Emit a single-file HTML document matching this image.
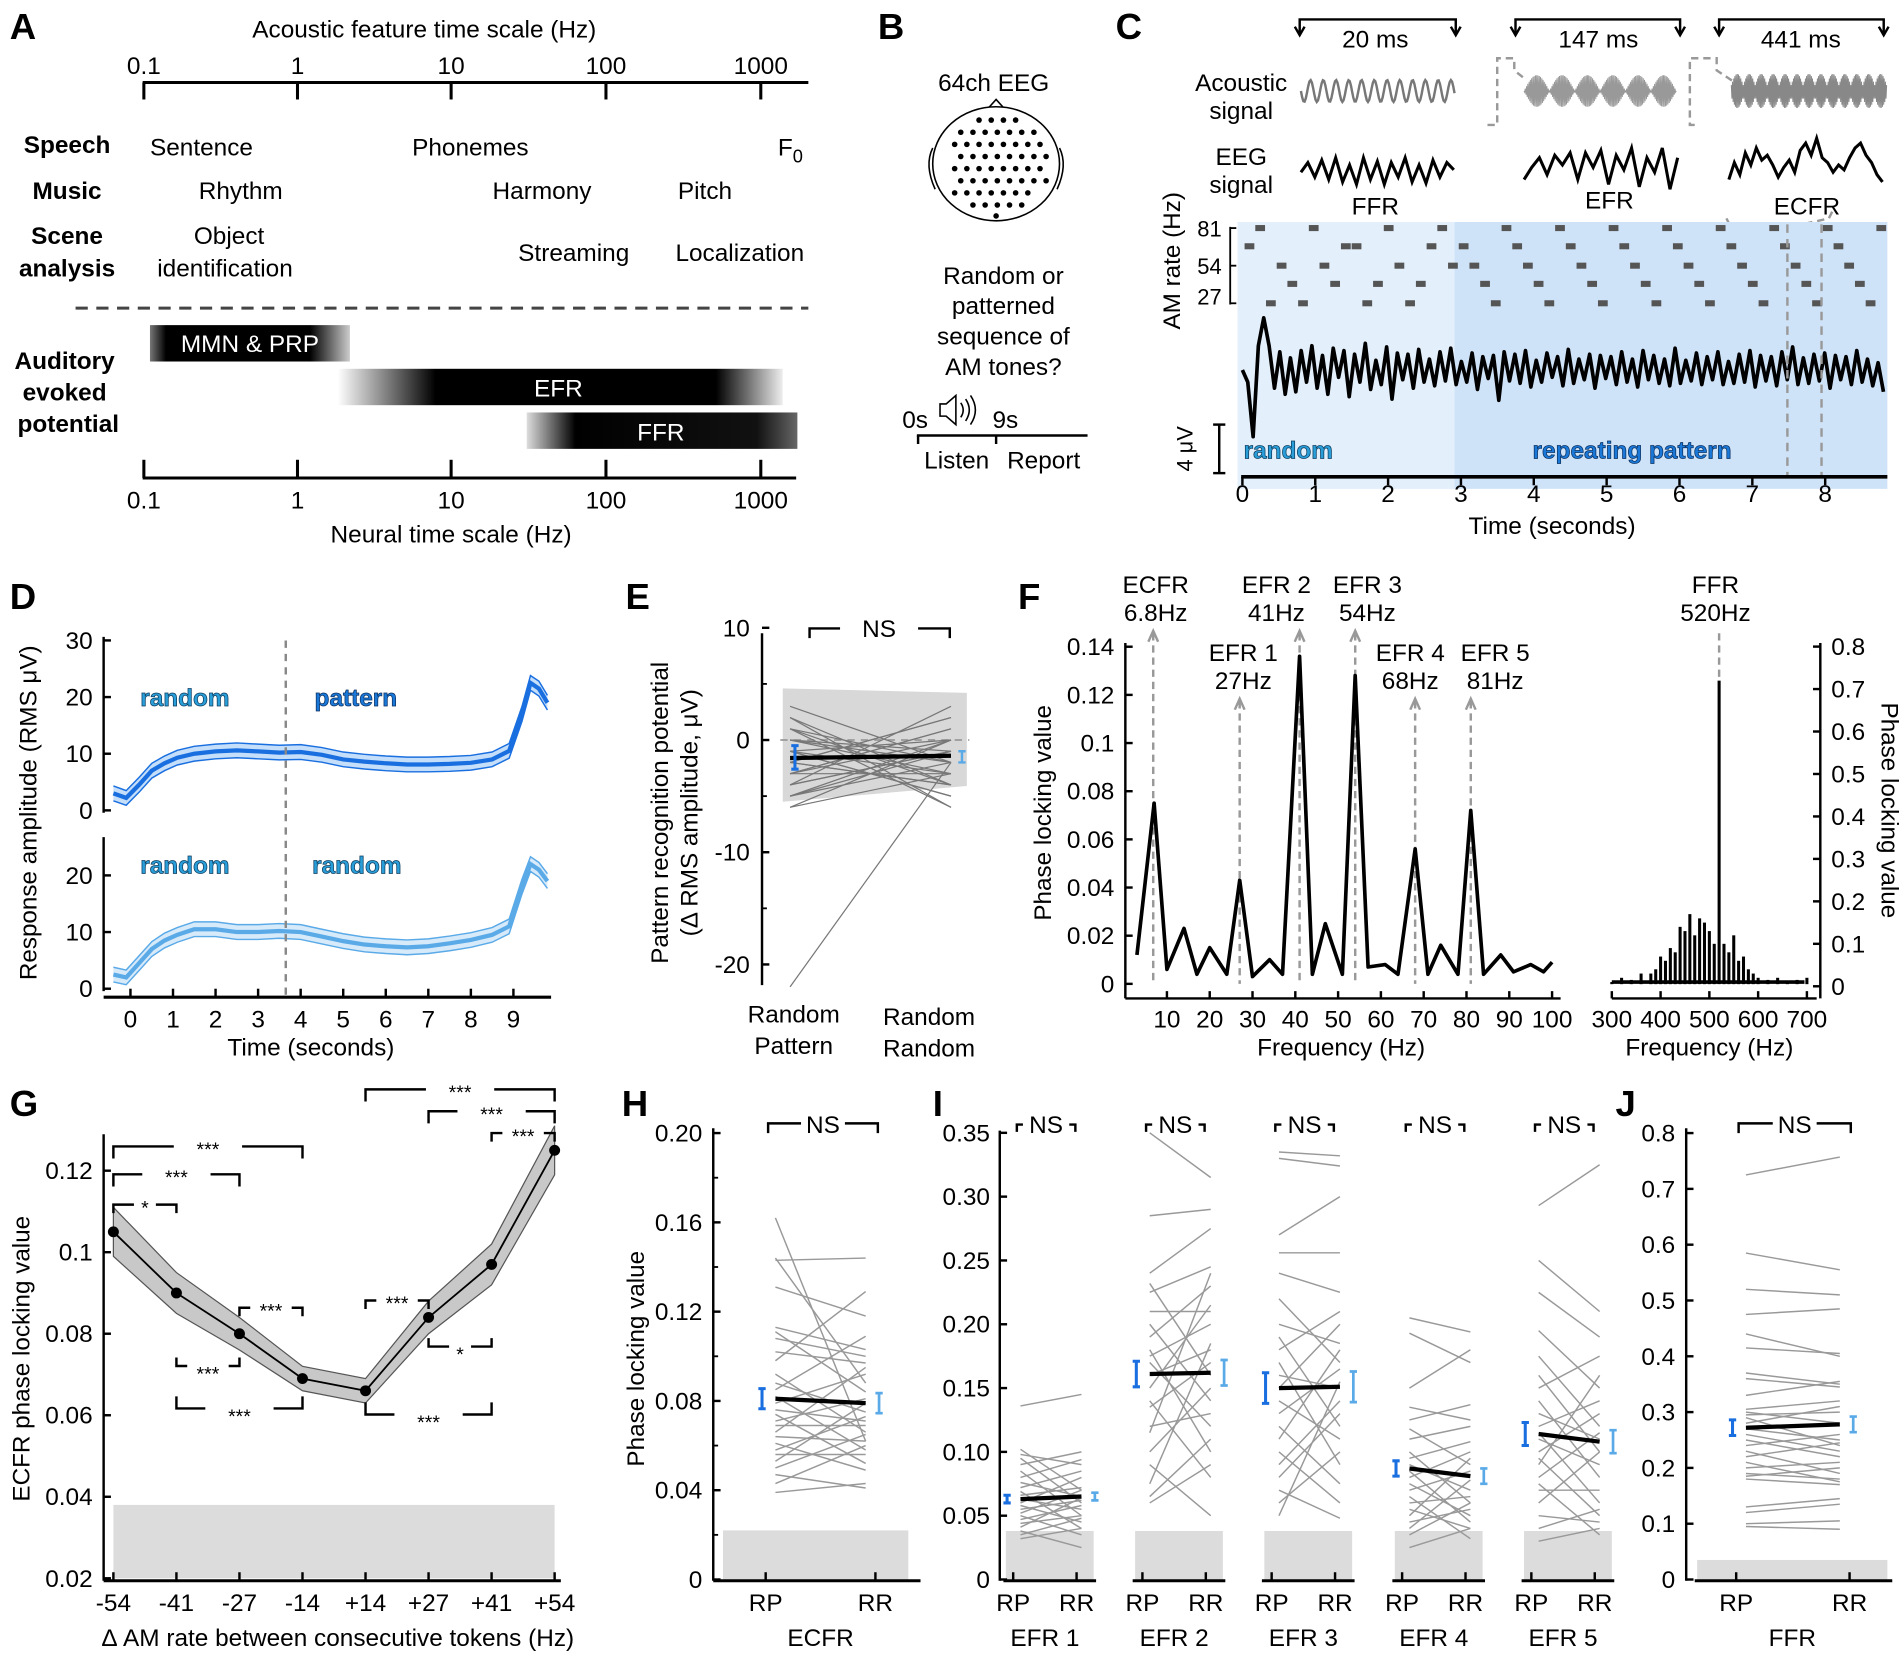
<!DOCTYPE html>
<html><head><meta charset="utf-8"><style>
html,body{margin:0;padding:0;background:#fff;}
svg{display:block;font-family:"Liberation Sans",Arial,sans-serif;}
</style></head><body>
<svg id="fig" xmlns="http://www.w3.org/2000/svg" width="1902" height="1662" viewBox="0 0 1560 1370" preserveAspectRatio="none">
<defs>
<linearGradient id="gMMN" x1="0" x2="1"><stop offset="0" stop-color="#777"/><stop offset="0.08" stop-color="#000"/><stop offset="0.8" stop-color="#000"/><stop offset="1" stop-color="#ccc"/></linearGradient>
<linearGradient id="gEFR" x1="0" x2="1"><stop offset="0" stop-color="#fff"/><stop offset="0.22" stop-color="#000"/><stop offset="0.85" stop-color="#000"/><stop offset="1" stop-color="#eee"/></linearGradient>
<linearGradient id="gFFR" x1="0" x2="1"><stop offset="0" stop-color="#ddd"/><stop offset="0.18" stop-color="#000"/><stop offset="0.85" stop-color="#111"/><stop offset="1" stop-color="#666"/></linearGradient>
</defs>
<!-- Panel A -->
<g font-size="20">
<text x="8" y="32" font-size="30" font-weight="bold">A</text>
<text x="348" y="31" text-anchor="middle">Acoustic feature time scale (Hz)</text>
<g stroke="#000" stroke-width="2.5"><line x1="117" y1="68" x2="663" y2="68"/><line x1="118" y1="68" x2="118" y2="82"/><line x1="244" y1="68" x2="244" y2="82"/><line x1="370" y1="68" x2="370" y2="82"/><line x1="497" y1="68" x2="497" y2="82"/><line x1="624" y1="68" x2="624" y2="82"/></g>
<g text-anchor="middle"><text x="118" y="61">0.1</text><text x="244" y="61">1</text><text x="370" y="61">10</text><text x="497" y="61">100</text><text x="624" y="61">1000</text></g>
<g font-weight="bold" text-anchor="middle"><text x="55" y="126">Speech</text><text x="55" y="164">Music</text><text x="55" y="201">Scene</text><text x="55" y="228">analysis</text></g>
<g><text x="123" y="128">Sentence</text><text x="338" y="128">Phonemes</text><text x="638" y="128">F<tspan font-size="15" dy="6">0</tspan></text><text x="163" y="164">Rhythm</text><text x="404" y="164">Harmony</text><text x="556" y="164">Pitch</text><text x="159" y="201">Object</text><text x="129" y="228">identification</text><text x="425" y="215">Streaming</text><text x="554" y="215">Localization</text></g>
<line x1="62" y1="254" x2="663" y2="254" stroke="#444" stroke-width="2.5" stroke-dasharray="10 7"/>
<rect x="123" y="268" width="164" height="30" fill="url(#gMMN)"/>
<text x="205" y="290" fill="#fff" text-anchor="middle">MMN &amp; PRP</text>
<rect x="277" y="304" width="365" height="30" fill="url(#gEFR)"/>
<text x="458" y="327" fill="#fff" text-anchor="middle">EFR</text>
<rect x="432" y="340" width="222" height="30" fill="url(#gFFR)"/>
<text x="542" y="363" fill="#fff" text-anchor="middle">FFR</text>
<g font-weight="bold" text-anchor="middle"><text x="53" y="304">Auditory</text><text x="53" y="330">evoked</text><text x="56" y="356">potential</text></g>
<g stroke="#000" stroke-width="2.5"><line x1="117" y1="394" x2="653" y2="394"/><line x1="118" y1="394" x2="118" y2="379"/><line x1="244" y1="394" x2="244" y2="379"/><line x1="370" y1="394" x2="370" y2="379"/><line x1="497" y1="394" x2="497" y2="379"/><line x1="624" y1="394" x2="624" y2="379"/></g>
<g text-anchor="middle"><text x="118" y="419">0.1</text><text x="244" y="419">1</text><text x="370" y="419">10</text><text x="497" y="419">100</text><text x="624" y="419">1000</text></g>
<text x="370" y="447" text-anchor="middle">Neural time scale (Hz)</text>
</g>
<!-- Panel B -->
<g font-size="20">
<text x="720" y="32" font-size="30" font-weight="bold">B</text>
<text x="815" y="75" text-anchor="middle">64ch EEG</text>
<g fill="none" stroke="#000" stroke-width="1.3"><path d="M808,92 L817,82 L826,92"/><path d="M765,122 q-7,14 2,34"/><path d="M869,122 q7,14 -2,34"/><ellipse cx="817" cy="135" rx="52" ry="47" fill="#fff"/></g>
<g id="headDots" fill="#000"></g>
<g text-anchor="middle"><text x="823" y="234">Random or</text><text x="823" y="259">patterned</text><text x="823" y="284">sequence of</text><text x="823" y="309">AM tones?</text></g>
<text x="740" y="353">0s</text>
<g fill="none" stroke="#000" stroke-width="1.3"><path d="M771,333 h5 l8,-7 v24 l-8,-7 h-5z"/><path d="M788,332 q4,6 0,12"/><path d="M792,329 q6,9 0,18"/><path d="M796,326 q8,12 0,24"/></g>
<text x="814" y="353">9s</text>
<g stroke="#000" stroke-width="2"><line x1="752" y1="359" x2="892" y2="359"/><line x1="753" y1="359" x2="753" y2="366"/><line x1="817" y1="359" x2="817" y2="366"/></g>
<text x="758" y="386">Listen</text><text x="826" y="386">Report</text>
</g>
<!-- Panel C -->
<g id="panelC" font-size="20">
<text x="915" y="32" font-size="30" font-weight="bold">C</text>
<g fill="none" stroke="#000" stroke-width="2">
<path d="M1066,28 v-12 h128 v12"/><path d="M1243,28 v-12 h135 v12"/><path d="M1410,28 v-12 h135 v12"/>
<path d="M1062,22 l4,7 l4,-7 M1190,22 l4,7 l4,-7 M1239,22 l4,7 l4,-7 M1374,22 l4,7 l4,-7 M1406,22 l4,7 l4,-7 M1541,22 l4,7 l4,-7"/></g>
<g text-anchor="middle"><text x="1128" y="39">20 ms</text><text x="1311" y="39">147 ms</text><text x="1477" y="39">441 ms</text></g>
<g text-anchor="middle"><text x="1018" y="75">Acoustic</text><text x="1018" y="98">signal</text><text x="1018" y="136">EEG</text><text x="1018" y="159">signal</text></g>
<g id="cWaves"></g>
<g fill="none" stroke="#999" stroke-width="2" stroke-dasharray="6 4">
<path d="M1220,103 h8 v-55 h14 v10 l10,8"/><path d="M1390,103 h-4 v-55 h22 v10 l15,10"/><path d="M1416,180 l4,8 h45 l35,-8 l4,-8"/></g>
<g text-anchor="middle"><text x="1128" y="177">FFR</text><text x="1320" y="172">EFR</text><text x="1482" y="177">ECFR</text></g>
<rect x="1015" y="183" width="178" height="220" fill="#e3effb"/>
<rect x="1193" y="183" width="355" height="220" fill="#cfe3f8"/>
<g id="cDashes"></g>
<g stroke="#000" stroke-width="1.5"><line x1="1009" y1="187" x2="1009" y2="251"/><line x1="1009" y1="188" x2="1014" y2="188"/><line x1="1009" y1="219" x2="1014" y2="219"/><line x1="1009" y1="250" x2="1014" y2="250"/></g>
<g font-size="18" text-anchor="end"><text x="1002" y="195">81</text><text x="1002" y="226">54</text><text x="1002" y="251">27</text></g>
<text transform="translate(968,215) rotate(-90)" text-anchor="middle">AM rate (Hz)</text>
<path id="cTrace" fill="none" stroke="#000" stroke-width="3" stroke-linejoin="round"/>
<g stroke="#999" stroke-width="2" stroke-dasharray="7 5"><line x1="1466" y1="185" x2="1466" y2="393"/><line x1="1494" y1="185" x2="1494" y2="393"/></g>
<g stroke="#000" stroke-width="2"><line x1="1000" y1="350" x2="1000" y2="390"/><line x1="995" y1="350" x2="1005" y2="350"/><line x1="995" y1="390" x2="1005" y2="390"/></g>
<text transform="translate(978,370) rotate(-90)" text-anchor="middle" font-size="18">4 μV</text>
<text x="1020" y="378" font-weight="bold" fill="#2a9ed8" stroke="#0b3a5c" stroke-width="0.6">random</text>
<text x="1257" y="378" font-weight="bold" fill="#1a78d8" stroke="#0b3060" stroke-width="0.6">repeating pattern</text>
<line x1="1018" y1="393" x2="1548" y2="393" stroke="#000" stroke-width="3"/>
<g id="cTicks" text-anchor="middle"></g>
<text x="1273" y="440" text-anchor="middle">Time (seconds)</text>
</g>
<!-- Panel D -->
<g id="panelD" font-size="20">
<text x="8" y="502" font-size="30" font-weight="bold">D</text>
<text transform="translate(30,670) rotate(-90)" text-anchor="middle">Response amplitude (RMS μV)</text>
<text x="255" y="870" text-anchor="middle">Time (seconds)</text>
<text x="115" y="582" font-weight="bold" fill="#2a9ed8" stroke="#0b3a5c" stroke-width="0.6">random</text>
<text x="258" y="582" font-weight="bold" fill="#1a78d8" stroke="#0b3060" stroke-width="0.6">pattern</text>
<text x="115" y="720" font-weight="bold" fill="#2a9ed8" stroke="#0b3a5c" stroke-width="0.6">random</text>
<text x="256" y="720" font-weight="bold" fill="#2a9ed8" stroke="#0b3a5c" stroke-width="0.6">random</text>
</g>
<!-- Panel E -->
<g id="panelE" font-size="20">
<text x="513" y="502" font-size="30" font-weight="bold">E</text>
<text transform="translate(548,670) rotate(-90)" text-anchor="middle">Pattern recognition potential</text>
<text transform="translate(572,670) rotate(-90)" text-anchor="middle">(Δ RMS amplitude, μV)</text>
<g text-anchor="middle"><text x="651" y="843">Random</text><text x="651" y="869">Pattern</text><text x="762" y="845">Random</text><text x="762" y="871">Random</text></g>
</g>
<!-- Panel F -->
<g id="panelF" font-size="20">
<text x="835" y="502" font-size="30" font-weight="bold">F</text>
<text transform="translate(862,670) rotate(-90)" text-anchor="middle">Phase locking value</text>
<text transform="translate(1543,668) rotate(90)" text-anchor="middle">Phase locking value</text>
<text x="1100" y="870" text-anchor="middle">Frequency (Hz)</text>
<text x="1402" y="870" text-anchor="middle">Frequency (Hz)</text>
</g>
<!-- Panel G -->
<g id="panelG" font-size="20">
<text x="8" y="920" font-size="30" font-weight="bold">G</text>
<text transform="translate(24,1120) rotate(-90)" text-anchor="middle">ECFR phase locking value</text>
<text x="277" y="1357" text-anchor="middle">Δ AM rate between consecutive tokens (Hz)</text>
</g>
<g id="panelH" font-size="20">
<text x="510" y="920" font-size="30" font-weight="bold">H</text>
<text transform="translate(528,1120) rotate(-90)" text-anchor="middle">Phase locking value</text>
</g>
<g id="panelI" font-size="20">
<text x="765" y="920" font-size="30" font-weight="bold">I</text>
</g>
<g id="panelJ" font-size="20">
<text x="1325" y="920" font-size="30" font-weight="bold">J</text>
</g>
<script>
// ---------- DATA ----------
const cTokenLevels=[68,81,27,54,41,27,81,54,41,68,68,27,41,81,54,27,41,68,81,54,68,54,41,27,81,68,54,41,27,81,68,54,41,27,81,68,54,41,27,81,68,54,41,27,81,68,54,41,27,81,68,54,41,27,81,68,54,41,27,81];
const cTrace=[0,-1,-5.5,2,4.3,2,-1.5,1.5,-2,1,-1.8,1.6,-1,2,-1.5,1.2,-2,1.8,-0.6,1.6,-2.2,1.3,-1,2.2,-1.6,0.8,-1.2,1.9,-2.4,1.4,-0.8,1.3,-1.5,1.7,-1,0.9,-1.3,1.5,-0.9,1.8,-1.2,0.7,-1,1.4,-1.6,1.1,-0.7,1.2,-2.5,1.5,-0.9,1.3,-1.1,1.6,-1.4,0.8,-1,1.4,-0.6,1.1,-1.3,1.7,-1.1,0.9,-0.8,1.3,-1.5,1.2,-0.7,1.1,-1.2,1.5,-1,0.9,-1.4,1.6,-0.8,1.2,-1.1,0.9,-1.3,1.8,-1.1,0.8,-0.9,1.4,-1.2,1.1,-0.8,1.5,-1.2,0.7,-1.1,1.3,-1,1.6,-1.4,1.2,-0.9,1.1,-1.3,1.5,-0.8,1.9,-1.2,1,-1.1,1.3,-0.9,1.4,-1.5,1.2,-0.8,1.1,-1.2,1.6,-1,0.9,-1.3,0.6,-1.8];
const dTimes=[-0.4,-0.1,0.2,0.5,0.8,1.1,1.5,2,2.5,3,3.5,4,4.5,5,5.5,6,6.5,7,7.5,8,8.5,8.9,9.2,9.4,9.6,9.8];
const dPattern=[3,2.2,4.5,7,8.3,9.3,10,10.4,10.6,10.4,10.2,10.3,9.8,9,8.6,8.3,8.1,8.1,8.2,8.4,9,10.5,17,22.5,21.5,19];
const dRandom=[2.5,2,4.5,7,8.5,9.5,10.5,10.5,10,10,10.2,10,9.2,8.4,7.8,7.5,7.3,7.5,8,8.6,9.5,11,18,22,21,19];
const eRP=[0,-3,-5,2,-1,-4,1,-2,-6,3,-1,-3,0,-2,-4,1,-5,-1,2,-3,-2,0,-6,-1,-4,-22,-3,1,-2,-5];
const eRR=[-3,1,-2,-4,0,-1,-6,2,-3,-2,-5,0,-1,-4,3,-2,-1,-3,-6,1,-4,-2,0,-5,-1,-2,-3,-4,2,0];
const fFreq=[3,7,10,14,17,20,24,27,30,34,37,41,44,47,51,54,57,61,64,68,71,74,78,81,84,88,91,95,98,100];
const fPLV=[0.012,0.075,0.006,0.023,0.004,0.015,0.004,0.043,0.003,0.01,0.004,0.136,0.004,0.025,0.004,0.128,0.007,0.008,0.004,0.056,0.004,0.016,0.004,0.072,0.004,0.012,0.005,0.008,0.005,0.009];
const fHighFreq=[300,320,340,360,380,390,400,410,420,430,440,450,460,470,480,490,500,510,520,530,540,550,560,570,580,590,600,620,640,660,680,700];
const fHighPLV=[0.01,0.02,0.015,0.03,0.03,0.04,0.07,0.06,0.09,0.08,0.14,0.13,0.17,0.12,0.16,0.15,0.13,0.1,0.72,0.1,0.08,0.12,0.06,0.07,0.04,0.03,0.02,0.015,0.02,0.01,0.015,0.02];
const gCats=['-54','-41','-27','-14','+14','+27','+41','+54'];
const gMean=[0.105,0.090,0.080,0.069,0.066,0.084,0.097,0.125];
const gSem=[0.006,0.005,0.004,0.003,0.003,0.004,0.005,0.006];
const hRP=[0.162,0.143,0.131,0.113,0.111,0.102,0.098,0.092,0.088,0.085,0.082,0.079,0.076,0.074,0.071,0.069,0.066,0.064,0.061,0.058,0.056,0.053,0.05,0.047,0.043,0.039,0.144,0.108];
const hRR=[0.062,0.144,0.118,0.103,0.084,0.097,0.129,0.066,0.075,0.109,0.058,0.092,0.071,0.052,0.081,0.069,0.095,0.062,0.049,0.073,0.056,0.079,0.065,0.041,0.06,0.043,0.088,0.1];
const iRP=[[0.136,0.102,0.098,0.095,0.09,0.085,0.08,0.076,0.072,0.069,0.066,0.063,0.06,0.058,0.055,0.052,0.05,0.047,0.044,0.041,0.038,0.035,0.032],
[0.35,0.285,0.24,0.232,0.225,0.21,0.2,0.19,0.18,0.175,0.17,0.16,0.15,0.14,0.135,0.12,0.115,0.1,0.09,0.075,0.065,0.06],
[0.335,0.33,0.27,0.256,0.24,0.22,0.2,0.19,0.18,0.17,0.16,0.15,0.14,0.13,0.12,0.11,0.1,0.09,0.08,0.07,0.06,0.05],
[0.205,0.193,0.15,0.135,0.125,0.118,0.11,0.1,0.095,0.09,0.085,0.08,0.075,0.07,0.065,0.06,0.055,0.05,0.045,0.04,0.035,0.025],
[0.293,0.25,0.225,0.195,0.175,0.16,0.15,0.14,0.13,0.12,0.115,0.11,0.1,0.095,0.09,0.08,0.075,0.07,0.06,0.05,0.04,0.03]];
const iRR=[[0.145,0.07,0.09,0.06,0.1,0.05,0.094,0.065,0.085,0.04,0.072,0.055,0.08,0.045,0.062,0.07,0.035,0.058,0.05,0.064,0.025,0.048,0.04],
[0.315,0.29,0.275,0.16,0.245,0.21,0.14,0.23,0.1,0.2,0.12,0.18,0.215,0.08,0.17,0.13,0.24,0.15,0.05,0.185,0.11,0.09],
[0.332,0.324,0.3,0.256,0.225,0.17,0.185,0.12,0.21,0.09,0.15,0.2,0.11,0.165,0.075,0.18,0.06,0.14,0.13,0.048,0.1,0.155],
[0.194,0.17,0.18,0.125,0.137,0.09,0.12,0.06,0.108,0.07,0.045,0.1,0.05,0.085,0.032,0.065,0.04,0.095,0.055,0.078,0.06,0.04],
[0.325,0.21,0.19,0.15,0.12,0.1,0.175,0.08,0.11,0.14,0.06,0.09,0.13,0.05,0.16,0.115,0.035,0.07,0.1,0.045,0.055,0.04]];
const iMeanRP=[0.063,0.161,0.15,0.087,0.114];
const iMeanRR=[0.065,0.162,0.151,0.081,0.108];
const iErr=[0.003,0.01,0.012,0.006,0.009];
const iNames=['EFR 1','EFR 2','EFR 3','EFR 4','EFR 5'];
const jRP=[0.725,0.585,0.52,0.475,0.44,0.415,0.37,0.36,0.33,0.305,0.3,0.295,0.29,0.28,0.27,0.26,0.25,0.24,0.23,0.22,0.21,0.2,0.19,0.185,0.18,0.13,0.12,0.1,0.095];
const jRR=[0.757,0.555,0.51,0.485,0.4,0.405,0.35,0.345,0.355,0.32,0.28,0.3,0.24,0.31,0.25,0.23,0.22,0.26,0.19,0.245,0.175,0.21,0.18,0.2,0.17,0.145,0.135,0.105,0.09];
// ---------- HELPERS ----------
const NS='http://www.w3.org/2000/svg';
function mk(parent,tag,attrs,name){const e=document.createElementNS(NS,tag);for(const k in attrs)e.setAttribute(k,attrs[k]);


parent.appendChild(e);return e;}
function txt(parent,x,y,s,name,extra){const e=mk(parent,'text',Object.assign({x:x,y:y},extra||{}),name);e.textContent=s;return e;}
function line(p,x1,y1,x2,y2,st,w,name){return mk(p,'line',{x1:x1,y1:y1,x2:x2,y2:y2,stroke:st,'stroke-width':w},name);}
const svg=document.getElementById('fig');
// head dots
(function(){const g=document.getElementById('headDots');for(let r=0;r<8;r++){for(let c=0;c<8;c++){const x=783+c*10+(r%2?5:0),y=99+r*10;const dx=(x-817)/44,dy=(y-136)/40;if(dx*dx+dy*dy<1)mk(g,'circle',{cx:x,cy:y,r:2.3},'electrode');}}mk(g,'circle',{cx:817,cy:178,r:2.3},'electrode');})();
// C schematic waves
(function(){const g=document.getElementById('cWaves');let d='';for(let i=0;i<=126;i++){const x=1067+i;d+=(i?'L':'M')+x+','+(75+9*Math.sin(i*0.6));}mk(g,'path',{d:d,fill:'none',stroke:'#777','stroke-width':2},'ffr-acoustic-wave');
d='';for(let i=0;i<=240;i++){const x=1250+i*0.52;const env=Math.abs(Math.sin(i*Math.PI/40));d+=(i?'L':'M')+x.toFixed(1)+','+(75+13*env*(i%2?1:-1));}mk(g,'path',{d:d,fill:'none',stroke:'#999','stroke-width':0.8},'efr-acoustic-wave');
d='';for(let i=0;i<=260;i++){const x=1420+i*0.49;const env=0.35+0.65*Math.abs(Math.sin(i*Math.PI/20));d+=(i?'L':'M')+x.toFixed(1)+','+(75+14*env*(i%2?1:-1));}mk(g,'path',{d:d,fill:'none',stroke:'#888','stroke-width':0.8},'ecfr-acoustic-wave');
d='';const eA=[0,8,-4,10,-6,12,-8,6,-10,12,-6,9,-10,8,-4,12,-8,6,-9,10,-4,8,2];eA.forEach((v,i)=>{d+=(i?'L':'M')+(1067+i*5.7).toFixed(1)+','+(142-v);});mk(g,'path',{d:d,fill:'none',stroke:'#000','stroke-width':2.5},'ffr-eeg-wave');
d='';const eB=[8,-2,-10,4,-12,-4,-14,8,-14,-2,-16,12,-12,0,-18,14,-10,2,-18,16,-10];eB.forEach((v,i)=>{d+=(i?'L':'M')+(1250+i*6.3).toFixed(1)+','+(140+v);});mk(g,'path',{d:d,fill:'none',stroke:'#000','stroke-width':2.5},'efr-eeg-wave');
d='';const eC=[10,-4,6,-12,-2,-16,-6,-10,-2,8,0,-6,4,-14,-20,-10,-24,-8,-4,4,-2,2,-8,-16,-20,-10,-4,6,12];eC.forEach((v,i)=>{d+=(i?'L':'M')+(1418+i*4.5).toFixed(1)+','+(138+v);});mk(g,'path',{d:d,fill:'none',stroke:'#000','stroke-width':2.5},'ecfr-eeg-wave');})();
// C axis functions
const cx=t=>1019+t*59.75;
const levelY={81:188,68:203,54:219,41:234,27:250};
(function(){const g=document.getElementById('cDashes');cTokenLevels.forEach((lv,i)=>{const t=0.03+i*0.147;if(cx(t)+8<1548)mk(g,'rect',{x:cx(t),y:levelY[lv]-2.5,width:8,height:5,fill:'#555'},'am-token');});
const tg=document.getElementById('cTicks');for(let t=0;t<=8;t++){line(tg,cx(t),393,cx(t),400,'#000',2,'c-tick');txt(tg,cx(t),414,String(t),'c-tick-label');}
let d='';const n=cTrace.length;cTrace.forEach((v,i)=>{const x=cx(i*8.8/(n-1));d+=(i?'L':'M')+x.toFixed(1)+','+(305-v*10).toFixed(1);});document.getElementById('cTrace').setAttribute('d',d);})();
// Panel D
(function(){const g=document.getElementById('panelD');const dx=t=>107+t*34.9;
function plot(y0,ppu,vals,col,lcol,name,ticks,top){line(g,85,top,85,y0+2,'#000',2,name+'-y-axis');ticks.forEach(v=>{line(g,85,y0-v*ppu,91,y0-v*ppu,'#000',2,name+'-y-tick');txt(g,76,y0-v*ppu+7,String(v),name+'-y-tick-label',{'text-anchor':'end'});});
let up='',mid='';dTimes.forEach((t,i)=>{up+=(i?'L':'M')+dx(t).toFixed(1)+','+(y0-(vals[i]+1.3)*ppu).toFixed(1);mid+=(i?'L':'M')+dx(t).toFixed(1)+','+(y0-vals[i]*ppu).toFixed(1);});
let loP='';dTimes.slice().reverse().forEach((t,j)=>{const i=dTimes.length-1-j;loP+='L'+dx(t).toFixed(1)+','+(y0-(vals[i]-1.3)*ppu).toFixed(1);});
mk(g,'path',{d:up+loP+'Z',fill:lcol,opacity:0.35},name+'-sem-band');
let lp='';dTimes.forEach((t,i)=>{lp+=(i?'L':'M')+dx(t).toFixed(1)+','+(y0-(vals[i]-1.3)*ppu).toFixed(1);});
mk(g,'path',{d:up,fill:'none',stroke:col,'stroke-width':1.2},name+'-upper');mk(g,'path',{d:lp,fill:'none',stroke:col,'stroke-width':1.2},name+'-lower');
mk(g,'path',{d:mid,fill:'none',stroke:col,'stroke-width':3.5},name+'-mean');}
plot(668,4.67,dPattern,'#1a6fe0','#5aa0f0','d-pattern',[0,10,20,30],525);
plot(815,4.67,dRandom,'#5aaae8','#8cc4f0','d-random',[0,10,20],690);
line(g,85,822,452,822,'#000',2.5,'d-x-axis');for(let t=0;t<=9;t++){line(g,dx(t),822,dx(t),815,'#000',2,'d-x-tick');txt(g,dx(t),847,String(t),'d-x-tick-label',{'text-anchor':'middle'});}
line(g,dx(3.65),528,dx(3.65),820,'#888',2,'d-split-line').setAttribute('stroke-dasharray','6 5');})();
// Panel E
(function(){const g=document.getElementById('panelE');const ey=v=>610-v*9.25;const xa=648,xb=780;
mk(g,'path',{d:`M642,${ey(4.6)} L793,${ey(4.2)} L793,${ey(-4.1)} L642,${ey(-5.5)}Z`,fill:'#d8d8d8'},'e-ci-band');
line(g,640,ey(0),795,ey(0),'#999',1.5,'e-zero-line').setAttribute('stroke-dasharray','6 5');
eRP.forEach((v,i)=>line(g,xa,ey(v),xb,ey(eRR[i]),'#777',1,'e-subject-line'));
line(g,xa,ey(-1.6),xb,ey(-1.4),'#000',3.5,'e-mean-line');
mk(g,'path',{d:`M649,${ey(-0.5)} h6 m-3,0 V${ey(-2.6)} m-3,0 h6`,stroke:'#1a6fe0','stroke-width':2.5,fill:'none'},'e-err-rp');
mk(g,'path',{d:`M786,${ey(-1)} h6 m-3,0 V${ey(-2)} m-3,0 h6`,stroke:'#5aaae8','stroke-width':2,fill:'none'},'e-err-rr');
line(g,625,522,625,812,'#000',2,'e-y-axis');[10,0,-10,-20].forEach(v=>{line(g,625,ey(v),631,ey(v),'#000',2,'e-y-tick');txt(g,615,ey(v)+7,String(v),'e-y-tick-label',{'text-anchor':'end'});});
[5,-5,-15].forEach(v=>line(g,625,ey(v),629,ey(v),'#000',1.5,'e-minor-tick'));
mk(g,'path',{d:'M664,526 v-8 h25 M753,518 h26 v8',fill:'none',stroke:'#000','stroke-width':2},'e-ns-bracket');txt(g,721,525,'NS','e-ns-label',{'text-anchor':'middle'});})();
// Panel F
(function(){const g=document.getElementById('panelF');const fx=f=>922+f*3.51,fy=v=>811-v*1985;const hx=f=>1322+(f-300)*0.4,hy=v=>813-v*350;
line(g,923,530,923,823,'#000',2,'f-y-axis');line(g,923,823,1280,823,'#000',2,'f-x-axis');
[0,0.02,0.04,0.06,0.08,0.1,0.12,0.14].forEach(v=>{line(g,923,fy(v),929,fy(v),'#000',2,'f-y-tick');txt(g,914,fy(v)+7,String(v),'f-y-tick-label',{'text-anchor':'end'});});
for(let f=10;f<=100;f+=10){line(g,fx(f),823,fx(f),817,'#000',2,'f-x-tick');txt(g,fx(f),847,String(f),'f-x-tick-label',{'text-anchor':'middle'});}
const ann=[['ECFR','6.8Hz',6.8,0.075,489,2],['EFR 1','27Hz',27,0.043,545,3],['EFR 2','41Hz',41,0.136,489,-19],['EFR 3','54Hz',54,0.128,489,10],['EFR 4','68Hz',68,0.056,545,-4],['EFR 5','81Hz',81,0.072,545,20]];
ann.forEach(a=>{const x=fx(a[2]);const l=line(g,x,a[4]+33,x,811,'#999',2,'f-peak-marker');l.setAttribute('stroke-dasharray','6 4');mk(g,'path',{d:`M${x-4},${a[4]+40} L${x},${a[4]+31} L${x+4},${a[4]+40}`,fill:'none',stroke:'#999','stroke-width':2},'f-peak-arrow');
txt(g,x+a[5],a[4],a[0],'f-peak-name',{'text-anchor':'middle'});txt(g,x+a[5],a[4]+23,a[1],'f-peak-freq',{'text-anchor':'middle'});});
let d='';fFreq.forEach((f,i)=>{d+=(i?'L':'M')+fx(f).toFixed(1)+','+fy(fPLV[i]).toFixed(1);});mk(g,'path',{d:d,fill:'none',stroke:'#000','stroke-width':3,'stroke-linejoin':'round'},'f-spectrum-low');
line(g,1322,823,1490,823,'#000',2,'f-x2-axis');line(g,1493,530,1493,823,'#000',2,'f-y2-axis');
[300,400,500,600,700].forEach(f=>{line(g,hx(f),823,hx(f),817,'#000',2,'f-x2-tick');txt(g,hx(f),847,String(f),'f-x2-tick-label',{'text-anchor':'middle'});});
[0,0.1,0.2,0.3,0.4,0.5,0.6,0.7,0.8].forEach(v=>{line(g,1493,hy(v),1487,hy(v),'#000',2,'f-y2-tick');txt(g,1502,hy(v)+7,String(v),'f-y2-tick-label');});
const xr=hx(520);const l2=line(g,xr,522,xr,811,'#999',2,'ffr-peak-marker');l2.setAttribute('stroke-dasharray','6 4');txt(g,1407,489,'FFR','ffr-peak-name',{'text-anchor':'middle'});txt(g,1407,512,'520Hz','ffr-peak-freq',{'text-anchor':'middle'});
line(g,1322,hy(0.01),1480,hy(0.01),'#000',3,'f-baseline');
fHighFreq.forEach((f,i)=>line(g,hx(f),hy(0.005),hx(f),hy(fHighPLV[i]),'#000',2.5,'f-spectrum-high-spike'));})();
// Panel G
(function(){const g=document.getElementById('panelG');const gx=i=>93+i*51.7,gy=v=>1301-(v-0.02)*3360;
mk(g,'rect',{x:gx(0),y:gy(0.038),width:gx(7)-gx(0),height:gy(0.02)-gy(0.038),fill:'#dcdcdc'},'g-chance-level');
let up='',lo='';gMean.forEach((v,i)=>{up+=(i?'L':'M')+gx(i)+','+gy(v+gSem[i]).toFixed(1);});for(let i=gMean.length-1;i>=0;i--)lo+='L'+gx(i)+','+gy(gMean[i]-gSem[i]).toFixed(1);
mk(g,'path',{d:up+lo+'Z',fill:'#c8c8c8',stroke:'#555','stroke-width':1},'g-sem-band');
let d='';gMean.forEach((v,i)=>{d+=(i?'L':'M')+gx(i)+','+gy(v).toFixed(1);});mk(g,'path',{d:d,fill:'none',stroke:'#000','stroke-width':1.5},'g-mean-line');
gMean.forEach((v,i)=>mk(g,'circle',{cx:gx(i),cy:gy(v),r:4.5,fill:'#000'},'g-point-'+gCats[i]));
line(g,85,935,85,1303,'#000',2,'g-y-axis');line(g,85,1303,460,1303,'#000',2.5,'g-x-axis');
[0.02,0.04,0.06,0.08,0.1,0.12].forEach(v=>{line(g,85,gy(v),91,gy(v),'#000',2,'g-y-tick');txt(g,76,gy(v)+7,String(v),'g-y-tick-label',{'text-anchor':'end'});});
gCats.forEach((c,i)=>{line(g,gx(i),1303,gx(i),1296,'#000',2,'g-x-tick');txt(g,gx(i),1328,c,'g-x-tick-label',{'text-anchor':'middle'});});
const br=[[0,3,945,'***',1],[0,2,968,'***',1],[0,1,993,'*',1],[4,7,898,'***',1],[5,7,916,'***',1],[6,7,934,'***',1],[2,3,1078,'***',1],[4,5,1072,'***',1],[1,2,1126,'***',-1],[1,3,1161,'***',-1],[4,6,1166,'***',-1],[5,6,1110,'*',-1]];
br.forEach(b=>{const x1=gx(b[0]),x2=gx(b[1]),y=b[2],s=b[4];const short=(b[1]-b[0]===1);const h=short?7:10;const m=(x1+x2)/2;const tw=short?(b[3].length*4+5):(b[3].length*6+10);
mk(g,'path',{d:`M${x1},${y+s*h} V${y} H${m-tw} M${m+tw},${y} H${x2} V${y+s*h}`,fill:'none',stroke:'#000','stroke-width':2},'g-sig-bracket');txt(g,m,y+(s>0?8:12),b[3],'g-sig-stars',{'text-anchor':'middle','font-size':16});});})();
// Panels H, I, J
function pairs(g,xa,xb,rp,rr,yf,meanA,meanB,err,name){rp.forEach((v,i)=>line(g,xa,yf(v),xb,yf(rr[i]),'#999',1.2,name+'-subject-line'));
line(g,xa,yf(meanA),xb,yf(meanB),'#000',3.5,name+'-mean-line');
mk(g,'path',{d:`M${xa-14},${yf(meanA+err)} h6 m-3,0 V${yf(meanA-err)} m-3,0 h6`,fill:'none',stroke:'#1a6fe0','stroke-width':2.5},name+'-err-rp');
mk(g,'path',{d:`M${xb+8},${yf(meanB+err)} h6 m-3,0 V${yf(meanB-err)} m-3,0 h6`,fill:'none',stroke:'#5aaae8','stroke-width':2.2},name+'-err-rr');}
function nsBr(g,x1,x2,y,name){const m=(x1+x2)/2;mk(g,'path',{d:`M${x1},${y+8} V${y} H${m-18} M${m+18},${y} H${x2} V${y+8}`,fill:'none',stroke:'#000','stroke-width':2},name+'-ns-bracket');txt(g,m,y+8,'NS',name+'-ns-label',{'text-anchor':'middle'});}
(function(){const g=document.getElementById('panelH');const yf=v=>1302-v*1840;const xa=628,xb=718;
mk(g,'rect',{x:593,y:yf(0.022),width:152,height:yf(0)-yf(0.022),fill:'#dcdcdc'},'h-chance-level');
pairs(g,xa+8,xb-8,hRP,hRR,yf,0.081,0.079,0.0045,'h');
line(g,585,930,585,1303,'#000',2,'h-y-axis');line(g,585,1303,755,1303,'#000',2.5,'h-x-axis');
[0,0.04,0.08,0.12,0.16,0.2].forEach(v=>{line(g,585,yf(v),591,yf(v),'#000',2,'h-y-tick');txt(g,576,yf(v)+7,v===0?'0':v.toFixed(2),'h-y-tick-label',{'text-anchor':'end'});});
[0.02,0.06,0.1,0.14,0.18].forEach(v=>line(g,585,yf(v),589,yf(v),'#000',1.5,'h-minor-tick'));
line(g,xa,1303,xa,1296,'#000',2,'h-x-tick');line(g,xb,1303,xb,1296,'#000',2,'h-x-tick');
txt(g,xa,1328,'RP','h-rp-label',{'text-anchor':'middle'});txt(g,xb,1328,'RR','h-rr-label',{'text-anchor':'middle'});txt(g,673,1357,'ECFR','h-group-label',{'text-anchor':'middle'});
nsBr(g,630,720,926,'h');})();
(function(){const g=document.getElementById('panelI');const yf=v=>1302-v*1052;const xs=[831,937,1043,1150,1256];
xs.forEach((x,k)=>{mk(g,'rect',{x:x-6,y:yf(0.038),width:72,height:yf(0)-yf(0.038),fill:'#dcdcdc'},'i-chance-level');
pairs(g,x+6,x+56,iRP[k],iRR[k],yf,iMeanRP[k],iMeanRR[k],iErr[k],'i-efr'+(k+1));
line(g,x-8,1303,x+68,1303,'#000',2.5,'i-x-axis');line(g,x,1303,x,1296,'#000',2,'i-x-tick');line(g,x+52,1303,x+52,1296,'#000',2,'i-x-tick');
txt(g,x,1328,'RP','i-rp-label',{'text-anchor':'middle'});txt(g,x+52,1328,'RR','i-rr-label',{'text-anchor':'middle'});txt(g,x+26,1357,iNames[k],'i-group-label',{'text-anchor':'middle'});
const m=x+27;mk(g,'path',{d:`M${m-24},${933} v-6 h5 M${m+19},927 h5 v6`,fill:'none',stroke:'#000','stroke-width':2},'i-ns-bracket');txt(g,m,934,'NS','i-ns-label',{'text-anchor':'middle'});});
line(g,820,932,820,1303,'#000',2,'i-y-axis');
[0,0.05,0.1,0.15,0.2,0.25,0.3,0.35].forEach(v=>{line(g,820,yf(v),826,yf(v),'#000',2,'i-y-tick');txt(g,812,yf(v)+7,v===0?'0':v.toFixed(2),'i-y-tick-label',{'text-anchor':'end'});});})();
(function(){const g=document.getElementById('panelJ');const yf=v=>1302-v*460;const xa=1424,xb=1517;
mk(g,'rect',{x:1392,y:yf(0.035),width:156,height:yf(0)-yf(0.035),fill:'#dcdcdc'},'j-chance-level');
pairs(g,xa+8,xb-8,jRP,jRR,yf,0.272,0.278,0.014,'j');
line(g,1383,930,1383,1303,'#000',2,'j-y-axis');line(g,1390,1303,1552,1303,'#000',2.5,'j-x-axis');
[0,0.1,0.2,0.3,0.4,0.5,0.6,0.7,0.8].forEach(v=>{line(g,1383,yf(v),1389,yf(v),'#000',2,'j-y-tick');txt(g,1374,yf(v)+7,v===0?'0':String(v),'j-y-tick-label',{'text-anchor':'end'});});
line(g,xa,1303,xa,1296,'#000',2,'j-x-tick');line(g,xb,1303,xb,1296,'#000',2,'j-x-tick');
txt(g,xa,1328,'RP','j-rp-label',{'text-anchor':'middle'});txt(g,xb,1328,'RR','j-rr-label',{'text-anchor':'middle'});txt(g,1470,1357,'FFR','j-group-label',{'text-anchor':'middle'});
nsBr(g,1426,1518,926,'j');})();
</script>
</svg>
</body></html>
